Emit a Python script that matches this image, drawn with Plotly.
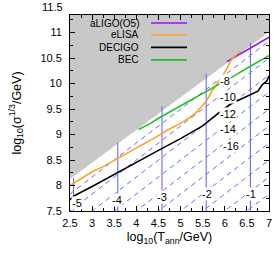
import plotly.graph_objects as go

# ---------------- data ----------------
# eLISA sensitivity curve
elisa_x = [2.5, 2.75, 3.0, 3.25, 3.5, 3.75, 4.0, 4.25, 4.5, 4.75, 5.0, 5.2, 5.35, 5.5, 5.6, 5.7, 5.8, 5.9, 5.97, 6.05, 6.12, 6.2, 6.28, 6.35]
elisa_y = [8.00, 8.13, 8.27, 8.37, 8.49, 8.62, 8.73, 8.86, 8.98, 9.11, 9.22, 9.33, 9.43, 9.57, 9.68, 9.84, 9.96, 10.08, 10.18, 10.3, 10.43, 10.52, 10.58, 10.63]

# DECIGO sensitivity curve
decigo_x = [2.5, 2.6, 3.0, 3.5, 4.0, 4.5, 5.0, 5.5, 5.8, 6.1, 6.3, 6.6, 6.75, 6.85, 6.95, 7.0]
decigo_y = [7.72, 7.80, 7.98, 8.22, 8.45, 8.69, 8.92, 9.17, 9.38, 9.58, 9.67, 9.78, 9.85, 9.98, 10.05, 10.15]

# BEC sensitivity curve
bec_x = [4.05, 4.3, 4.5, 4.75, 5.0, 5.25, 5.5, 5.75, 6.0, 6.25, 6.5, 6.75, 7.0]
bec_y = [9.10, 9.21, 9.32, 9.44, 9.56, 9.68, 9.80, 9.92, 10.05, 10.17, 10.30, 10.42, 10.55]

# aLIGO (O5) sensitivity curve
ligo_x = [6.05, 6.5, 7.0]
ligo_y = [10.43, 10.66, 10.91]

# excluded (grey) region boundary
bound_x = [2.5, 7.0, 7.0, 2.5]
bound_y = [8.13, 11.01, 11.6, 11.6]

# vertical lines (log10 f labels)
vline_x = [2.58, 3.58, 4.58, 5.58, 6.58]
vline_top = [8.15, 8.84, 9.55, 10.2, 10.8]
vline_labels = ["-5", "-4", "-3", "-2", "-1"]
vlabel_x = [2.65, 3.56, 4.57, 5.59, 6.59]
vlabel_y = [7.65, 7.72, 7.78, 7.83, 7.83]

# dashed lines of constant log10(Omega): y = slope*x + intercept
dash_slope = 2.0 / 3.0
dash_intercepts = [6.5, 6.167, 5.833, 5.5, 5.167, 4.833, 4.5, 4.167, 3.833, 3.5, 3.167, 2.833]
dash_labels = ["-8", "-10", "-12", "-14", "-16"]
dlabel_x = [5.86, 5.86, 5.86, 5.86, 5.93]
dlabel_y = [10.05, 9.74, 9.40, 9.11, 8.77]

# axes
x_ticks = [2.5, 3, 3.5, 4, 4.5, 5, 5.5, 6, 6.5, 7]
y_ticks = [7.5, 8, 8.5, 9, 9.5, 10, 10.5, 11]
y_top_label = 11.5
y_range = [7.5, 11.346]

# legend entries
legend_names = ["aLIGO(O5)", "eLISA", "DECIGO", "BEC"]
legend_colors = ["#9a10f0", "#ffa028", "#000000", "#22c022"]

FONT = "Liberation Sans, Arial, sans-serif"
BLUE = "#6a6aff"

fig = go.Figure()

# dashed constant-Omega lines (under the grey region)
for c in dash_intercepts:
    xs = [2.5, 7.0]
    fig.add_trace(go.Scatter(x=xs, y=[dash_slope * v + c for v in xs], mode="lines",
                             line=dict(color="#5a5af0", width=0.9, dash="5px,4px"),
                             hoverinfo="skip", showlegend=False))

# grey excluded region
fig.add_trace(go.Scatter(x=bound_x, y=bound_y, fill="toself", mode="lines",
                         fillcolor="#c8c8c8", line=dict(width=0, color="#c8c8c8"),
                         hoverinfo="skip", showlegend=False))

# vertical lines
for xv, yt in zip(vline_x, vline_top):
    fig.add_trace(go.Scatter(x=[xv, xv], y=[7.5, yt], mode="lines",
                             line=dict(color=BLUE, width=1.1),
                             hoverinfo="skip", showlegend=False))

# sensitivity curves
curves = [(ligo_x, ligo_y), (elisa_x, elisa_y), (decigo_x, decigo_y), (bec_x, bec_y)]
for (cx, cy), name, col in zip(curves, legend_names, legend_colors):
    fig.add_trace(go.Scatter(x=cx, y=cy, mode="lines", name=name,
                             line=dict(color=col, width=1.6), showlegend=False))

annotations = []
for t, xv, yv in zip(vline_labels, vlabel_x, vlabel_y):
    annotations.append(dict(x=xv, y=yv, xref="x", yref="y", text=t, showarrow=False,
                            font=dict(family=FONT, size=11, color="black"),
                            bgcolor="white", borderpad=0))
for t, xv, yv in zip(dash_labels, dlabel_x, dlabel_y):
    annotations.append(dict(x=xv, y=yv, xref="x", yref="y", text=t, showarrow=False,
                            xanchor="left", font=dict(family=FONT, size=11, color="black"),
                            bgcolor="white", borderpad=0))
# top tick label (sits above the frame in the reference)
annotations.append(dict(x=0, y=(y_top_label - y_range[0]) / (y_range[1] - y_range[0]),
                        xref="paper", yref="paper", text=str(y_top_label), showarrow=False,
                        xanchor="right", yanchor="middle", xshift=-5,
                        font=dict(family=FONT, size=11, color="black")))

# legend (text left, sample line right)
shapes = []
leg_y = [0.959, 0.898, 0.835, 0.771]
for name, col, ly in zip(legend_names, legend_colors, leg_y):
    annotations.append(dict(x=0.357, y=ly, xref="paper", yref="paper", text=name, showarrow=False,
                            xanchor="right", yanchor="middle",
                            font=dict(family=FONT, size=10, color="black")))
    shapes.append(dict(type="line", xref="paper", yref="paper", x0=0.407, x1=0.588, y0=ly, y1=ly,
                       line=dict(color=col, width=1.6)))

axis_common = dict(showline=True, linecolor="black", linewidth=1, mirror="ticks",
                   ticks="inside", ticklen=5, tickcolor="black", showgrid=False, zeroline=False,
                   automargin=False,
                   tickfont=dict(family=FONT, size=11, color="black"))

fig.update_layout(
    width=277, height=255,
    margin=dict(l=70, r=8, t=15, b=44, autoexpand=False),
    plot_bgcolor="white", paper_bgcolor="white",
    showlegend=False,
    annotations=annotations,
    shapes=shapes,
    xaxis=dict(range=[2.5, 7.0001], tickvals=x_ticks, ticktext=[str(v) for v in x_ticks],
               minor=dict(dtick=0.25, tick0=2.5, ticks="inside", ticklen=3, tickcolor="black"),
               title=dict(text="log<sub>10</sub>(T<sub>ann</sub>/GeV)", standoff=4,
                          font=dict(family=FONT, size=12.5, color="black")),
               ticklabelstandoff=2,
               **axis_common),
    yaxis=dict(range=y_range, tickvals=y_ticks, ticktext=[str(v) for v in y_ticks],
               minor=dict(dtick=0.25, tick0=7.5, ticks="inside", ticklen=3, tickcolor="black"),
               title=dict(text="log<sub>10</sub>(σ<sup>1/3</sup>/GeV)", standoff=16,
                          font=dict(family=FONT, size=12.5, color="black")),
               ticklabelstandoff=5,
               **axis_common),
)

fig.write_html("out.html", config={"displayModeBar": False},
               post_script="document.body.style.margin='0';document.body.style.overflow='hidden';")
